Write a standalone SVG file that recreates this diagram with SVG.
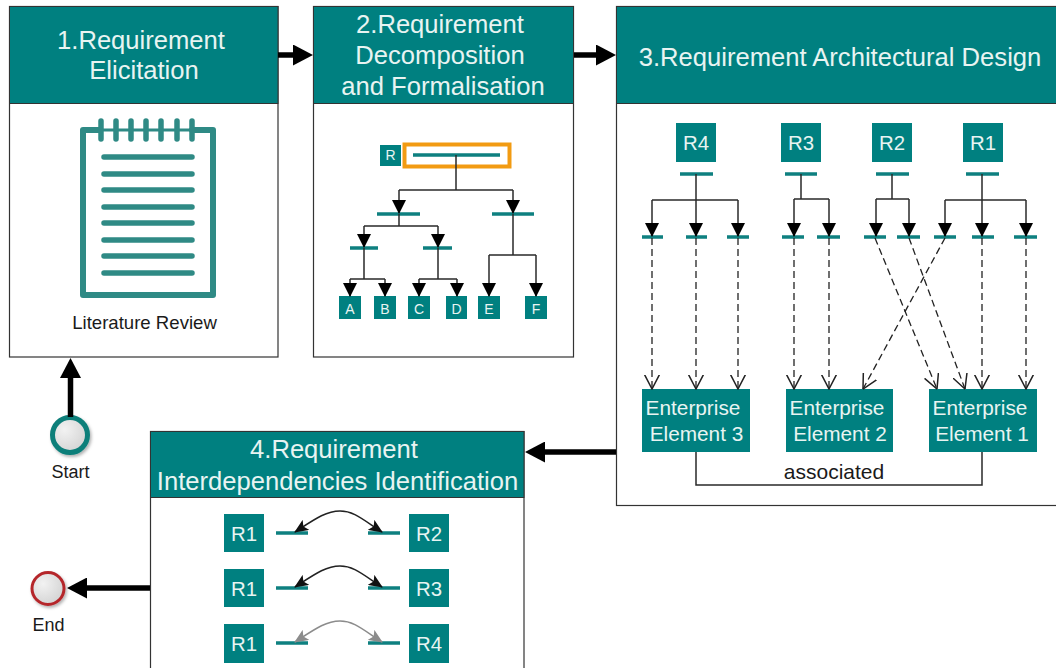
<svg xmlns="http://www.w3.org/2000/svg" width="1056" height="668" viewBox="0 0 1056 668">
<style>
text{font-family:"Liberation Sans",Arial,sans-serif;text-anchor:middle}
.box{fill:#fff;stroke:#333;stroke-width:1.2}
.head{fill:#008080;stroke:#333;stroke-width:1}
.ht{font-size:25.6px;fill:#e8f4f2}
.nt{fill:#008080}
.rt{font-size:20.4px;fill:#e8f4f2}
.st{font-size:14px;fill:#e8f4f2}
.et{font-size:20.8px;fill:#e8f4f2}
.lb{font-size:18.600px;fill:#1a1a1a}
.bar{stroke:#0e8080;stroke-width:3.500;fill:none}
.ln{stroke:#2a2a2a;stroke-width:1.500;fill:none}
.arr{stroke:#2a2a2a;stroke-width:1.500;fill:none;marker-end:url(#tri)}
.dash{stroke:#222;stroke-width:1.300;fill:none;stroke-dasharray:7 4;marker-end:url(#open)}
.thick{stroke:#000;stroke-width:5.500;fill:none;marker-end:url(#big)}
.pad{stroke:#2f8a85;fill:none;stroke-linecap:round}
.cur{stroke:#222;stroke-width:1.500;fill:none;marker-start:url(#cb);marker-end:url(#cb)}
.curg{stroke:#8c8c8c;stroke-width:1.500;fill:none;marker-start:url(#cg);marker-end:url(#cg)}
</style>
<defs>
<marker id="tri" viewBox="0 0 14 14" refX="13" refY="7" markerWidth="14" markerHeight="14" markerUnits="userSpaceOnUse" orient="auto"><path d="M0,0L14,7L0,14Z" fill="#000"/></marker>
<marker id="open" viewBox="0 0 15 16" refX="14.500" refY="8" markerWidth="15" markerHeight="16" markerUnits="userSpaceOnUse" orient="auto"><path d="M0,0.500L14.500,8L0,15.500" fill="none" stroke="#222" stroke-width="1.500"/></marker>
<marker id="big" viewBox="0 0 20 21" refX="0" refY="10.500" markerWidth="20" markerHeight="21" markerUnits="userSpaceOnUse" orient="auto"><path d="M0,0L20,10.500L0,21Z" fill="#000"/></marker>
<marker id="cb" viewBox="0 0 14 12" refX="13" refY="6" markerWidth="14" markerHeight="12" markerUnits="userSpaceOnUse" orient="auto-start-reverse"><path d="M0,0L14,6L0,12L3,6Z" fill="#111"/></marker>
<marker id="cg" viewBox="0 0 14 12" refX="13" refY="6" markerWidth="14" markerHeight="12" markerUnits="userSpaceOnUse" orient="auto-start-reverse"><path d="M0,0L14,6L0,12L3,6Z" fill="#8c8c8c"/></marker>
<radialGradient id="gr" cx="0.35" cy="0.35" r="0.8"><stop offset="0" stop-color="#f2f2f2"/><stop offset="1" stop-color="#cfcfcf"/></radialGradient>
<filter id="sh" x="-30%" y="-30%" width="170%" height="170%"><feDropShadow dx="1.500" dy="2" stdDeviation="1.500" flood-color="#000" flood-opacity="0.3"/></filter>
</defs>

<g id="step1">
<rect class="box" x="9.500" y="6.500" width="268.500" height="350.500"/>
<rect class="head" x="9.500" y="6.500" width="268.500" height="97"/>
<text class="ht" x="141" y="49">1.Requirement</text>
<text class="ht" x="144" y="79">Elicitation</text>
<g id="notepad">
<path class="pad" stroke-width="6" stroke-linejoin="round" d="M100,130H83V295H213V130H192"/>
<path class="pad" stroke-width="3" d="M100,130H192"/>
<path class="pad" stroke-width="5.500" d="M101,121V139M116,121V139M131,121V139M146,121V139M161,121V139M177,121V139M192,121V139"/>
<path class="pad" stroke-width="5.500" d="M104,157H192M104,174H192M104,190H192M104,207H192M104,223H192M104,240H192M104,256H192M104,273H192"/>
</g>
<text class="lb" x="144.500" y="329">Literature Review</text>
</g>

<g id="step2">
<rect class="box" x="313.500" y="6.500" width="260" height="350.500"/>
<rect class="head" x="313.500" y="6.500" width="260" height="97"/>
<text class="ht" x="440" y="33">2.Requirement</text>
<text class="ht" x="440" y="64">Decomposition</text>
<text class="ht" x="443" y="95">and Formalisation</text>
<rect class="nt" x="380" y="145" width="21" height="21"/><text class="st" x="390.500" y="160">R</text>
<rect x="404.500" y="144.500" width="105" height="22" fill="none" stroke="#f29b12" stroke-width="4"/>
<path class="bar" d="M413,155H500M377,214H420M492,214H534M350,248H378M423,248H452"/>
<rect class="nt" x="339" y="296" width="22" height="23"/><text class="st" x="350" y="314">A</text>
<rect class="nt" x="374" y="296" width="22" height="23"/><text class="st" x="385" y="314">B</text>
<rect class="nt" x="408" y="296" width="22" height="23"/><text class="st" x="419" y="314">C</text>
<rect class="nt" x="446" y="296" width="21" height="23"/><text class="st" x="456.500" y="314">D</text>
<rect class="nt" x="478" y="296" width="22" height="23"/><text class="st" x="489" y="314">E</text>
<rect class="nt" x="525" y="296" width="22" height="23"/><text class="st" x="536" y="314">F</text>
</g>

<g id="step3">
<rect class="box" x="616.500" y="6.500" width="445" height="499"/>
<rect class="head" x="616.500" y="6.500" width="445" height="97"/>
<text class="ht" x="840" y="66">3.Requirement Architectural Design</text>
<rect class="nt" x="676" y="123" width="40" height="39"/><text class="rt" x="696" y="150">R4</text>
<rect class="nt" x="781" y="123" width="40" height="39"/><text class="rt" x="801" y="150">R3</text>
<rect class="nt" x="872" y="123" width="40" height="39"/><text class="rt" x="892" y="150">R2</text>
<rect class="nt" x="963" y="123" width="40" height="39"/><text class="rt" x="983" y="150">R1</text>
<path class="bar" d="M680,174H713M785,174H817M876,174H909M966,174H999M642,237H663M686,237H707M727,237H749M782,237H804M817,237H840M864,237H886M897,237H920M934,237H956M972,237H994M1014,237H1037"/>
<g id="ee3"><rect class="nt" x="642" y="389" width="108" height="63"/><text class="et" x="693" y="415">Enterprise</text><text class="et" x="696.500" y="441">Element 3</text></g>
<g id="ee2"><rect class="nt" x="786" y="389" width="107" height="63"/><text class="et" x="837" y="415">Enterprise</text><text class="et" x="840" y="441">Element 2</text></g>
<g id="ee1"><rect class="nt" x="929" y="389" width="108" height="63"/><text class="et" x="980" y="415">Enterprise</text><text class="et" x="982" y="441">Element 1</text></g>
<text class="lb" x="834" y="479" style="font-size:21px">associated</text>
</g>

<g id="step4">
<rect class="box" x="150.500" y="431.500" width="373.500" height="245"/>
<rect class="head" x="150.500" y="431.500" width="373.500" height="66"/>
<text class="ht" x="334" y="458">4.Requirement</text>
<text class="ht" x="337.500" y="490">Interdependencies Identification</text>
<rect class="nt" x="224" y="514" width="40" height="38"/><text class="rt" x="244" y="541">R1</text>
<rect class="nt" x="224" y="569" width="40" height="38"/><text class="rt" x="244" y="596">R1</text>
<rect class="nt" x="224" y="624" width="40" height="39"/><text class="rt" x="244" y="651">R1</text>
<rect class="nt" x="409" y="514" width="40" height="38"/><text class="rt" x="429" y="541">R2</text>
<rect class="nt" x="409" y="569" width="40" height="38"/><text class="rt" x="429" y="596">R3</text>
<rect class="nt" x="409" y="624" width="40" height="39"/><text class="rt" x="429" y="651">R4</text>
<path class="bar" d="M276,533H308M368,533H400M276,588H308M368,588H400M276,643H308M368,643H400"/>
</g>

<g id="start"><circle cx="70" cy="435" r="17.500" fill="url(#gr)" stroke="#0e7f7a" stroke-width="5" filter="url(#sh)"/><text class="lb" x="70.500" y="478" style="font-size:18px">Start</text></g>
<g id="end"><circle cx="48" cy="588.500" r="16" fill="url(#gr)" stroke="#b5272c" stroke-width="3" filter="url(#sh)"/><text class="lb" x="48.500" y="631" style="font-size:18px">End</text></g>

<g id="connectors">
<path class="thick" d="M278,55H293"/>
<path class="thick" d="M574,55H596"/>
<path class="thick" d="M616,452H545"/>
<path class="thick" d="M150,588H87"/>
<path class="thick" d="M70.500,417V378"/>
<path class="ln" d="M456,155V190M399,190H513M399,214V226M364,226H438M364,248V279M350,279H385M438,248V279M419,279H457M513,214V255M489,255H536"/>
<path class="arr" d="M399,190V213"/><path class="arr" d="M513,190V213"/>
<path class="arr" d="M364,226V247"/><path class="arr" d="M438,226V247"/>
<path class="arr" d="M350,279V296"/><path class="arr" d="M385,279V296"/>
<path class="arr" d="M419,279V296"/><path class="arr" d="M457,279V296"/>
<path class="arr" d="M489,255V296"/><path class="arr" d="M536,255V296"/>
<path class="ln" d="M696,174V200M652,200H738M801,174V199M794,199H829M892,174V199M876,199H909M982,174V200M945,200H1026"/>
<path class="arr" d="M652,200V236"/><path class="arr" d="M696,200V236"/><path class="arr" d="M738,200V236"/>
<path class="arr" d="M794,199V236"/><path class="arr" d="M829,199V236"/>
<path class="arr" d="M876,199V236"/><path class="arr" d="M909,199V236"/>
<path class="arr" d="M945,200V236"/><path class="arr" d="M982,200V236"/><path class="arr" d="M1026,200V236"/>
<path class="dash" d="M652,238V389"/><path class="dash" d="M696,238V389"/><path class="dash" d="M738,238V389"/>
<path class="dash" d="M794,238V389"/><path class="dash" d="M829,238V389"/>
<path class="dash" d="M875,238L937,389"/><path class="dash" d="M909,238L965,389"/><path class="dash" d="M945,238L863,389"/>
<path class="dash" d="M982,238V389"/><path class="dash" d="M1026,238V389"/>
<path class="ln" d="M696,452V485H982V452"/>
<path class="cur" d="M295,532C315,519 326,511 340,511C354,511 362,519 382,532"/>
<path class="cur" d="M295,587C315,574 326,566 340,566C354,566 362,574 382,587"/>
<path class="curg" d="M295,642C315,629 326,621 340,621C354,621 362,629 382,642"/>
</g>
</svg>
